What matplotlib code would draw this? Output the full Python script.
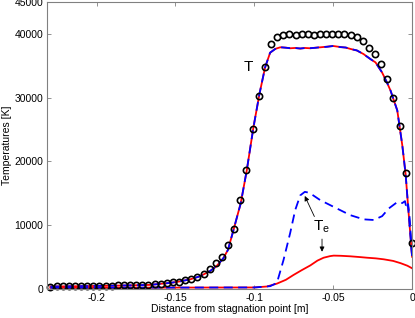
import numpy as np
import matplotlib
matplotlib.use('Agg')
import matplotlib.pyplot as plt

plt.rcParams['font.family'] = ['Liberation Sans', 'DejaVu Sans']

# measured T (open circles)
x_meas = [-0.2293, -0.2254, -0.2215, -0.2176, -0.2137, -0.2098, -0.2060, -0.2021,
          -0.1982, -0.1943, -0.1904, -0.1865, -0.1827, -0.1788, -0.1749, -0.1710,
          -0.1671, -0.1632, -0.1594, -0.1555, -0.1516, -0.1477, -0.1438, -0.1399,
          -0.1361, -0.1322, -0.1283, -0.1244, -0.1205, -0.1167, -0.1128, -0.1089,
          -0.1050, -0.1011, -0.0972, -0.0934, -0.0895, -0.0856, -0.0817, -0.0778,
          -0.0739, -0.0701, -0.0662, -0.0623, -0.0584, -0.0545, -0.0506, -0.0468,
          -0.0429, -0.0390, -0.0351, -0.0312, -0.0273, -0.0235, -0.0196, -0.0157,
          -0.0118, -0.0079, -0.0040, 0.0000]
T_meas = [450, 460, 470, 480, 490, 500, 520, 540, 560, 580,
          600, 620, 640, 660, 690, 720, 760, 800, 860, 950,
          1100, 1220, 1400, 1650, 1980, 2450, 3150, 4050, 5100, 7000,
          9500, 14000, 18600, 25000, 30300, 34800, 38300, 39500, 39800, 39900,
          39850, 39900, 39900, 39850, 39950, 40000, 40000, 40000, 39900, 39800,
          39500, 38800, 37800, 36800, 35300, 32900, 29900, 25500, 18200, 7300]

# computed T (red solid / blue dashed)
x_T = [-0.2293, -0.2100, -0.1981, -0.1800, -0.1663, -0.1599, -0.1536, -0.1472,
       -0.1409, -0.1345, -0.1281, -0.1239, -0.1197, -0.1167, -0.1133, -0.1086,
       -0.1048, -0.1006, -0.0968, -0.0932, -0.0900, -0.0868, -0.0836, -0.0800,
       -0.0773, -0.0740, -0.0709, -0.0680, -0.0645, -0.0610, -0.0582, -0.0540,
       -0.0499, -0.0455, -0.0420, -0.0391, -0.0350, -0.0308, -0.0264, -0.0232,
       -0.0190, -0.0162, -0.0137, -0.0094, -0.0062, -0.0041, -0.0020, 0.0000]
T_red = [450, 500, 550, 620, 700, 860, 1000, 1250,
         1550, 2050, 2850, 3650, 4850, 6200, 9200, 13500,
         18600, 25300, 30500, 34700, 37000, 37600, 37850, 37800,
         37700, 37750, 37650, 37750, 37700, 37800, 37850, 37950,
         38050, 37900, 37800, 37600, 37350, 36800, 36000, 35500,
         33900, 32500, 31100, 28000, 22500, 18000, 11300, 5100]
T_blue = [450, 510, 540, 630, 700, 850, 1010, 1240,
          1560, 2040, 2860, 3640, 4860, 6180, 9220, 13480,
          18620, 25280, 30520, 34680, 37020, 37580, 37870, 37780,
          37720, 37730, 37670, 37730, 37720, 37780, 37870, 37930,
          38070, 37880, 37820, 37580, 37370, 36780, 36020, 35480,
          33920, 32480, 31120, 27980, 22520, 17980, 11320, 5100]

# electron temperature Te
x_Te_red = [-0.2293, -0.1500, -0.1000, -0.0920, -0.0857, -0.0800, -0.0752, -0.0700,
            -0.0645, -0.0600, -0.0561, -0.0520, -0.0497, -0.0450, -0.0391, -0.0330,
            -0.0285, -0.0230, -0.0179, -0.0120, -0.0073, -0.0030, 0.0000]
Te_red = [250, 280, 300, 450, 900, 1500, 2250, 3000,
          3750, 4500, 4950, 5200, 5280, 5250, 5170, 5050,
          4950, 4850, 4700, 4450, 4100, 3700, 3300]

x_Te_blue = [-0.2293, -0.1000, -0.0900, -0.0857, -0.0815, -0.0773, -0.0741, -0.0709,
             -0.0680, -0.0660, -0.0645, -0.0582, -0.0497, -0.0391, -0.0307, -0.0243,
             -0.0190, -0.0148, -0.0094, -0.0062, -0.0045, -0.0035, -0.0025, -0.0015,
             0.0000]
Te_blue = [250, 300, 500, 1000, 4600, 8800, 12400, 14700,
           15250, 15150, 15000, 13950, 12900, 11600, 10950, 10850,
           11450, 12650, 13650, 13500, 13800, 12600, 13300, 11000,
           5100]

fig = plt.figure(figsize=(4.15, 3.18), dpi=100)
ax = fig.add_axes([0.113, 0.09, 0.88, 0.905])

ax.plot(x_T, T_red, color='red', lw=1.3)
ax.plot(x_T, T_blue, color='blue', lw=1.3, dashes=(5, 3))
ax.plot(x_Te_red, Te_red, color='red', lw=1.3)
ax.plot(x_Te_blue, Te_blue, color='blue', lw=1.3, dashes=(5, 3))
ax.plot(x_meas, T_meas, 'o', mfc='none', mec='black', ms=4.5, mew=1.2, clip_on=False)

ax.text(-0.1038, 34800, 'T', fontsize=11, ha='center', va='center')
ax.text(-0.0574, 9800, r'T$_\mathregular{e}$', fontsize=11, ha='center', va='center')
ax.annotate('', xy=(-0.0688, 15000), xytext=(-0.0612, 11000),
            arrowprops=dict(arrowstyle='-|>', color='black', lw=0.6,
                            mutation_scale=7))
ax.annotate('', xy=(-0.0571, 5450), xytext=(-0.0571, 8300),
            arrowprops=dict(arrowstyle='-|>', color='black', lw=0.6,
                            mutation_scale=7))

ax.set_xlim(-0.2315, 0)
ax.set_ylim(0, 45000)
ax.set_xticks([-0.2, -0.15, -0.1, -0.05, 0])
ax.set_xticklabels(['-0.2', '-0.15', '-0.1', '-0.05', '0'])
ax.set_yticks([0, 10000, 20000, 30000, 40000, 45000])
ax.set_yticklabels(['0', '10000', '20000', '30000', '40000', '45000'])
ax.tick_params(direction='in', top=True, right=True, labelsize=7.5, length=3,
               width=0.6, color='#808080', pad=2.5)
for s in ax.spines.values():
    s.set_color('#808080')
    s.set_linewidth(0.8)

ax.set_xlabel('Distance from stagnation point [m]', fontsize=7.5, labelpad=1)
ax.set_ylabel('Temperatures [K]', fontsize=7.5, labelpad=2)

fig.savefig('out.png', dpi=100)
